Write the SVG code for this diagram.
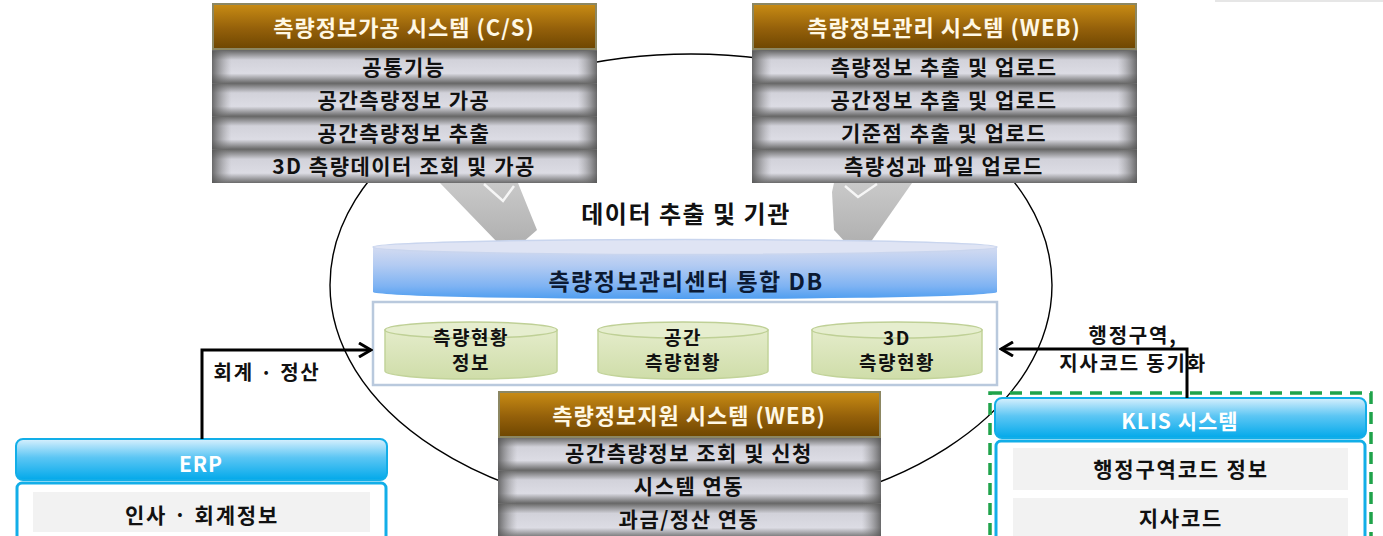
<svg xmlns="http://www.w3.org/2000/svg" width="1383" height="536" viewBox="0 0 1383 536">
<style>
text{font-family:"Noto Sans CJK KR","Noto Sans",sans-serif;font-weight:bold;text-anchor:middle;}
.hd{fill:url(#brown);stroke:#8c8762;stroke-width:2;}
.hdt{fill:#fff8e4;font-size:22px;letter-spacing:1px;}
.bg{fill:#6a6a6a;}
.row{fill:url(#rowV);}
.rowo{fill:url(#rowH);}
.rt{fill:#111;font-size:21px;letter-spacing:1.5px;}
.bh{fill:url(#blueH);stroke:#12aee8;stroke-width:2;}
.bht{fill:#fff;font-size:21px;letter-spacing:1px;}
.bb{fill:#fff;stroke:#12aee8;stroke-width:3;}
.cell{fill:#f2f2f2;}
.ct{fill:#111;font-size:21px;letter-spacing:1.8px;}
.cyl{fill:url(#green);stroke:#c2d39a;stroke-width:1.5;}
.cap{fill:#e6eecf;stroke:#bfd096;stroke-width:1.5;}
.gt{fill:#111;font-size:19px;letter-spacing:1.5px;}
.conn{fill:none;stroke:#000;stroke-width:3;}
.lbl{fill:#111;font-size:20px;letter-spacing:1.8px;}
.garrow{fill:url(#grayA);}
.gv{fill:none;stroke:#f6f6f6;stroke-width:2.5;}
</style>
<defs>
<linearGradient id="brown" x1="0" y1="0" x2="0" y2="1">
<stop offset="0" stop-color="#c98c14"/>
<stop offset="0.55" stop-color="#94600a"/>
<stop offset="1" stop-color="#6e4600"/>
</linearGradient>
<linearGradient id="rowV" x1="0" y1="0" x2="0" y2="1">
<stop offset="0" stop-color="#6e6e6e"/>
<stop offset="0.28" stop-color="#d2d2da"/>
<stop offset="0.7" stop-color="#dcdce4"/>
<stop offset="1" stop-color="#6a6a6a"/>
</linearGradient>
<linearGradient id="rowH" x1="0" y1="0" x2="1" y2="0">
<stop offset="0" stop-color="#555" stop-opacity="0.85"/>
<stop offset="0.05" stop-color="#888" stop-opacity="0"/>
<stop offset="0.95" stop-color="#888" stop-opacity="0"/>
<stop offset="1" stop-color="#555" stop-opacity="0.85"/>
</linearGradient>
<linearGradient id="blueH" x1="0" y1="0" x2="0" y2="1">
<stop offset="0" stop-color="#d8f0fd"/>
<stop offset="0.45" stop-color="#5cc6f4"/>
<stop offset="1" stop-color="#02a9ea"/>
</linearGradient>
<linearGradient id="dbBody" x1="0" y1="0" x2="0" y2="1">
<stop offset="0" stop-color="#d3dbf1"/>
<stop offset="0.35" stop-color="#b3cbf2"/>
<stop offset="0.75" stop-color="#7fb3f3"/>
<stop offset="1" stop-color="#4f9ef0"/>
</linearGradient>
<linearGradient id="green" x1="0" y1="0" x2="0" y2="1">
<stop offset="0" stop-color="#e4ecca"/>
<stop offset="1" stop-color="#cfdda9"/>
</linearGradient>
<linearGradient id="grayA" x1="0" y1="0" x2="0" y2="1">
<stop offset="0" stop-color="#c9c9c9"/>
<stop offset="1" stop-color="#b0b0b0"/>
</linearGradient>
<marker id="open" markerWidth="16" markerHeight="16" viewBox="0 0 16 16" refX="14" refY="8" orient="auto" markerUnits="userSpaceOnUse">
<polyline points="2,1 14,8 2,15" fill="none" stroke="#000" stroke-width="3"/>
</marker>
</defs>

<rect width="1383" height="536" fill="#fff"/>
<rect x="1215" y="-6" width="170" height="8" fill="#e6e6e6"/>

<ellipse id="ring" cx="691" cy="285" rx="361" ry="231" fill="none" stroke="#000" stroke-width="1.4"/>

<g id="arrows-gray">
<polygon class="garrow" points="440,183 518,183 522,193 537,230 522,243 498,243"/>
<polyline class="gv" points="484,184 503,201 514,186"/>
<polygon class="garrow" points="834,183 912,183 870,243 846,243 834,230 832,192"/>
<polyline class="gv" points="845,186 858,197 877,184"/>
</g>

<g id="sys-cs">
<rect class="bg" x="212" y="49" width="385" height="134"/>
<rect class="hd" x="213" y="4" width="383" height="45"/>
<text class="hdt" x="404" y="36">측량정보가공 시스템 (C/S)</text>
<rect class="row" x="212" y="51" width="385" height="32"/><rect class="rowo" x="212" y="51" width="385" height="32"/>
<text class="rt" x="404" y="75">공통기능</text>
<rect class="row" x="212" y="84" width="385" height="32"/><rect class="rowo" x="212" y="84" width="385" height="32"/>
<text class="rt" x="404" y="108">공간측량정보 가공</text>
<rect class="row" x="212" y="117" width="385" height="32"/><rect class="rowo" x="212" y="117" width="385" height="32"/>
<text class="rt" x="404" y="141">공간측량정보 추출</text>
<rect class="row" x="212" y="150" width="385" height="33"/><rect class="rowo" x="212" y="150" width="385" height="33"/>
<text class="rt" x="404" y="174">3D 측량데이터 조회 및 가공</text>
</g>

<g id="sys-web-mgmt">
<rect class="bg" x="752" y="49" width="385" height="134"/>
<rect class="hd" x="753" y="4" width="383" height="45"/>
<text class="hdt" x="944" y="36">측량정보관리 시스템 (WEB)</text>
<rect class="row" x="752" y="51" width="385" height="32"/><rect class="rowo" x="752" y="51" width="385" height="32"/>
<text class="rt" x="944" y="75">측량정보 추출 및 업로드</text>
<rect class="row" x="752" y="84" width="385" height="32"/><rect class="rowo" x="752" y="84" width="385" height="32"/>
<text class="rt" x="944" y="108">공간정보 추출 및 업로드</text>
<rect class="row" x="752" y="117" width="385" height="32"/><rect class="rowo" x="752" y="117" width="385" height="32"/>
<text class="rt" x="944" y="141">기준점 추출 및 업로드</text>
<rect class="row" x="752" y="150" width="385" height="33"/><rect class="rowo" x="752" y="150" width="385" height="33"/>
<text class="rt" x="944" y="174">측량성과 파일 업로드</text>
</g>

<text id="extract-label" x="686" y="223" fill="#111" style="font-size:24px;letter-spacing:1.5px">데이터 추출 및 기관</text>

<g id="db">
<path d="M373,247 L373,292 A312,7 0 0 0 997,292 L997,247 Z" fill="url(#dbBody)"/>
<ellipse cx="685" cy="247" rx="312" ry="7.5" fill="#dfe4f4" stroke="#c9d5ee" stroke-width="1.5"/>
<text x="686" y="290" fill="#0c1a33" style="font-size:23px;letter-spacing:1.5px">측량정보관리센터 통합 DB</text>
</g>

<g id="db-contents">
<rect x="373" y="302" width="624" height="83" fill="#fff" stroke="#b9c9dd" stroke-width="2.5"/>
</g>

<g id="cyl1">
<path class="cyl" d="M385,330 L385,371 A86,8 0 0 0 557,371 L557,330 Z"/>
<ellipse class="cap" cx="471" cy="330" rx="86" ry="8"/>
<text class="gt" x="471" y="345">측량현황</text>
<text class="gt" x="471" y="370">정보</text>
</g>
<g id="cyl2">
<path class="cyl" d="M598,330 L598,371 A85,8 0 0 0 768,371 L768,330 Z"/>
<ellipse class="cap" cx="683" cy="330" rx="85" ry="8"/>
<text class="gt" x="683" y="345">공간</text>
<text class="gt" x="683" y="370">측량현황</text>
</g>
<g id="cyl3">
<path class="cyl" d="M812,330 L812,371 A85,8 0 0 0 982,371 L982,330 Z"/>
<ellipse class="cap" cx="897" cy="330" rx="85" ry="8"/>
<text class="gt" x="897" y="345">3D</text>
<text class="gt" x="897" y="370">측량현황</text>
</g>

<g id="sys-web-support">
<rect class="bg" x="498" y="437" width="383" height="99"/>
<rect class="hd" x="499" y="392" width="381" height="45"/>
<text class="hdt" x="689" y="424">측량정보지원 시스템 (WEB)</text>
<rect class="row" x="498" y="438" width="383" height="32"/><rect class="rowo" x="498" y="438" width="383" height="32"/>
<text class="rt" x="689" y="461">공간측량정보 조회 및 신청</text>
<rect class="row" x="498" y="471" width="383" height="32"/><rect class="rowo" x="498" y="471" width="383" height="32"/>
<text class="rt" x="689" y="494">시스템 연동</text>
<rect class="row" x="498" y="504" width="383" height="34"/><rect class="rowo" x="498" y="504" width="383" height="34"/>
<text class="rt" x="689" y="527">과금/정산 연동</text>
</g>

<g id="erp">
<rect class="bb" x="17" y="483" width="369" height="70" rx="5"/>
<rect class="bh" x="16" y="439" width="371" height="41" rx="7"/>
<text class="bht" x="201" y="472">ERP</text>
<rect class="cell" x="33" y="492" width="337" height="40"/>
<text class="ct" x="202" y="523">인사 · 회계정보</text>
</g>

<g id="klis">
<rect x="990" y="393" width="381" height="170" fill="none" stroke="#1fa34a" stroke-width="3.5" stroke-dasharray="12 8"/>
<rect class="bb" x="996" y="441" width="369" height="110" rx="5"/>
<rect class="bh" x="995" y="398" width="371" height="40" rx="7"/>
<text class="bht" x="1180" y="429">KLIS 시스템</text>
<rect class="cell" x="1013" y="448" width="335" height="42"/>
<text class="ct" x="1181" y="477">행정구역코드 정보</text>
<rect class="cell" x="1013" y="498" width="335" height="42"/>
<text class="ct" x="1181" y="526">지사코드</text>
</g>

<g id="connectors">
<polyline class="conn" points="202,439 202,350 371,350" marker-end="url(#open)"/>
<text class="lbl" x="267" y="380">회계 · 정산</text>
<polyline class="conn" points="1187,398 1187,349 1001,349" marker-end="url(#open)"/>
<text class="lbl" x="1133" y="343">행정구역,</text>
<text class="lbl" x="1133" y="371">지사코드 동기화</text>
</g>
</svg>
